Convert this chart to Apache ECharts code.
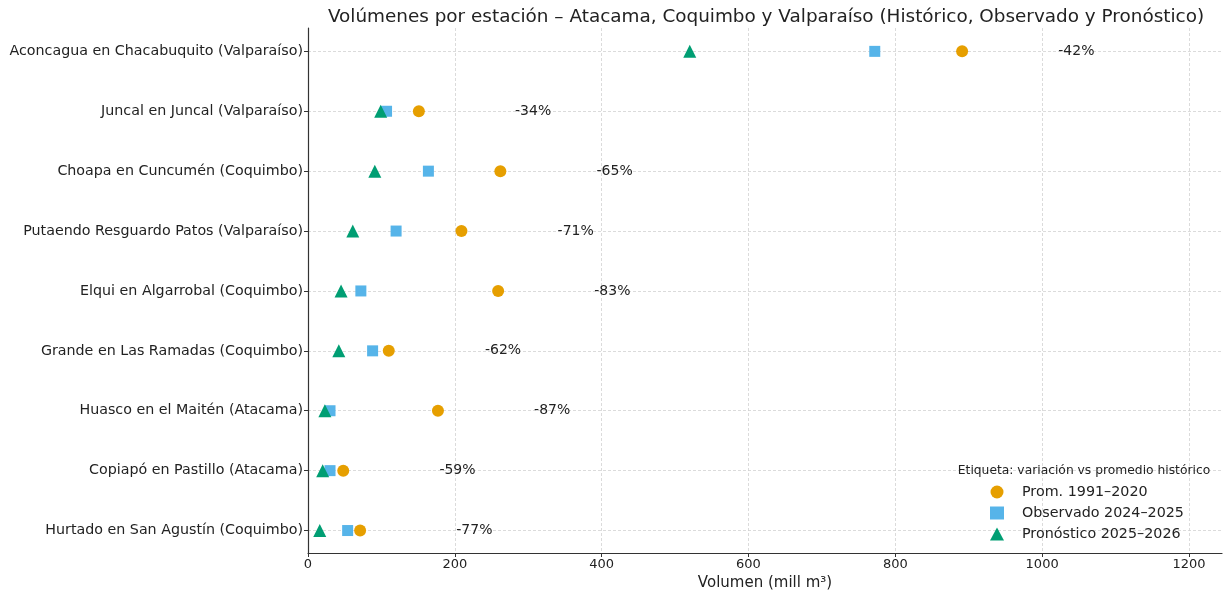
<!DOCTYPE html>
<html>
<head>
<meta charset="utf-8">
<script src="https://cdn.jsdelivr.net/npm/echarts@6/dist/echarts.min.js"></script>
<style>
  html, body { margin: 0; padding: 0; background: #fff; }
  #chart { width: 1227px; height: 594px; }
</style>
</head>
<body>
<div id="chart"></div>
<script>
// datos (mill m³)
var estaciones = [
  'Aconcagua en Chacabuquito (Valparaíso)',
  'Juncal en Juncal (Valparaíso)',
  'Choapa en Cuncumén (Coquimbo)',
  'Putaendo Resguardo Patos (Valparaíso)',
  'Elqui en Algarrobal (Coquimbo)',
  'Grande en Las Ramadas (Coquimbo)',
  'Huasco en el Maitén (Atacama)',
  'Copiapó en Pastillo (Atacama)',
  'Hurtado en San Agustín (Coquimbo)'
];
var promedio   = [891, 151, 262, 209, 259, 110, 177, 48, 71];
var observado  = [772, 107, 164, 120, 72, 88, 30, 30, 54];
var pronostico = [520, 99, 91, 61, 45, 42, 23, 20, 16];
var etiquetas  = ['-42%', '-34%', '-65%', '-71%', '-83%', '-62%', '-87%', '-59%', '-77%'];
var xTicks = [0, 200, 400, 600, 800, 1000, 1200];
var yTicks = estaciones.map(function (_, i) { return i; });

var font = 'DejaVu Sans';

function pts(arr) {
  return arr.map(function (v, i) { return [v, i]; });
}

var chart = echarts.init(document.getElementById('chart'));
var option = {
  animation: false,
  textStyle: { fontFamily: font },
  title: [
    {
      text: 'Volúmenes por estación – Atacama, Coquimbo y Valparaíso (Histórico, Observado y Pronóstico)',
      left: 761, top: 3, textAlign: 'center',
      textStyle: { fontFamily: font, fontSize: 18.4, fontWeight: 'normal', color: '#222' }
    },
    {
      text: 'Etiqueta: variación vs promedio histórico',
      left: 1079, top: 460, textAlign: 'center',
      textStyle: { fontFamily: font, fontSize: 12.3, fontWeight: 'normal', color: '#222' }
    }
  ],
  legend: {
    orient: 'vertical',
    left: 985, top: 480,
    itemWidth: 14, itemHeight: 13, itemGap: 7,
    textStyle: { fontFamily: font, fontSize: 14.3, color: '#222', padding: [0, 0, 0, 13] },
    data: [
      { name: 'Prom. 1991–2020', icon: 'circle' },
      { name: 'Observado 2024–2025', icon: 'rect' },
      { name: 'Pronóstico 2025–2026', icon: 'triangle' }
    ]
  },
  grid: { left: 308, right: 5, top: 28, bottom: 41, containLabel: false, outerBoundsMode: 'none' },
  xAxis: {
    type: 'value', min: 0, max: 1245,
    name: 'Volumen (mill m³)', nameLocation: 'middle', nameGap: 22,
    nameTextStyle: { fontFamily: font, fontSize: 15, color: '#222' },
    axisLine: { onZero: false, lineStyle: { color: '#333', width: 1.2 } },
    axisTick: { show: true, length: 4, customValues: xTicks, lineStyle: { color: '#333' } },
    axisLabel: {
      customValues: xTicks, fontSize: 13, color: '#222', margin: 5,
      formatter: function (v) { return String(v); }
    },
    splitLine: { show: true, lineStyle: { color: '#d2d2d2', type: [3, 2], width: 0.8 } }
  },
  yAxis: {
    type: 'value', inverse: true, min: -0.39, max: 8.375,
    axisLine: { show: true, onZero: false, lineStyle: { color: '#333', width: 1.2 } },
    axisTick: { show: true, length: 4, inside: false, customValues: yTicks, lineStyle: { color: '#333' } },
    axisLabel: {
      customValues: yTicks, fontSize: 14.25, color: '#222', margin: 5,
      formatter: function (v) { return estaciones[v]; }
    },
    splitLine: { show: true, lineStyle: { color: '#d2d2d2', type: [3, 2], width: 0.8 } }
  },
  series: [
    {
      name: 'Prom. 1991–2020', type: 'scatter', symbol: 'circle', symbolSize: 12,
      itemStyle: { color: '#E69F00', opacity: 1 }, data: pts(promedio), z: 3
    },
    {
      name: 'Observado 2024–2025', type: 'scatter', symbol: 'rect', symbolSize: 11,
      itemStyle: { color: '#56B4E9', opacity: 1 }, data: pts(observado), z: 3
    },
    {
      name: 'Pronóstico 2025–2026', type: 'scatter', symbol: 'triangle', symbolSize: 13,
      itemStyle: { color: '#009E73', opacity: 1 }, data: pts(pronostico), z: 4
    },
    {
      name: 'etiquetas', type: 'scatter', symbolSize: 0, silent: true,
      itemStyle: { opacity: 1 },
      data: promedio.map(function (v, i) { return [v + 131, i]; }),
      label: {
        show: true, position: 'right', distance: 0,
        fontFamily: font, fontSize: 14, color: '#222',
        formatter: function (p) { return etiquetas[p.dataIndex]; }
      }
    }
  ]
};
chart.setOption(option);
</script>
</body>
</html>
